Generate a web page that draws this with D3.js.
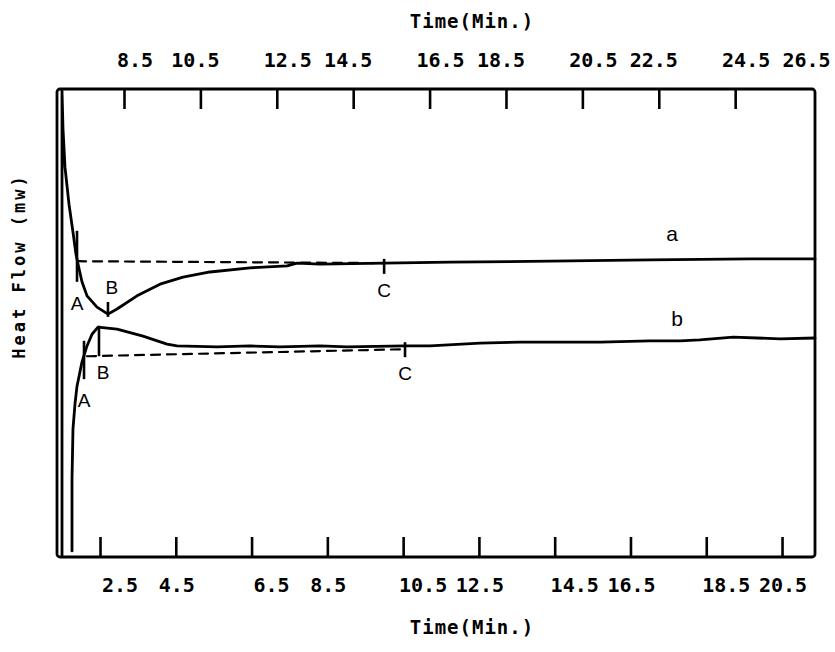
<!DOCTYPE html>
<html>
<head>
<meta charset="utf-8">
<script src="https://cdn.jsdelivr.net/npm/d3@7"></script>
<style>
    body { margin: 0; background: #fff; }
    svg { display: block; }
    .mono { font-family: "DejaVu Sans Mono", "Liberation Mono", monospace; font-weight: bold; }
    .mark { font-family: "Liberation Sans", "DejaVu Sans", sans-serif; }
</style>
</head>
<body>
<div id="container"></div>
<script>
const WIDTH = 835;
const HEIGHT = 652;
// plot box
const X1 = 57, X2 = 815, Y1 = 89, Y2 = 557;
const TICK = 20;

// top axis: time of run a (min)
const topDomain = [6.746, 26.59];
const topTicks = [8.5, 10.5, 12.5, 14.5, 16.5, 18.5, 20.5, 22.5, 24.5];
const topLabels = ["8.5", "10.5", "12.5", "14.5", "16.5", "18.5", "20.5", "22.5", "24.5", "26.5"];

// bottom axis: time of run b (min)
const bottomDomain = [1.365, 21.37];
const bottomTicks = [2.5, 4.5, 6.5, 8.5, 10.5, 12.5, 14.5, 16.5, 18.5, 20.5];
const bottomLabels = ["2.5", "4.5", "6.5", "8.5", "10.5", "12.5", "14.5", "16.5", "18.5", "20.5"];

// heat flow, arbitrary units (no scale printed)
const flowDomain = [0, 100];

// curve a (top time)
const aTime = [6.877, 6.877, 6.903, 6.955, 7.06, 7.165, 7.243, 7.296, 7.40, 7.532, 7.793, 8.081, 8.317,
    8.841, 9.443, 10.045, 10.752, 11.80, 12.77, 13.03, 13.63, 15.31, 17.04, 19.66, 22.27, 24.89, 26.59];
const aFlow = [0.4, 99.6, 91.5, 83.3, 75.4, 69.4, 64.7, 62.6, 58.8, 55.8, 53.4, 51.9, 53.0,
    55.8, 58.3, 59.8, 60.9, 61.8, 62.2, 62.8, 62.6, 62.8, 63.0, 63.2, 63.5, 63.7, 63.7];

// curve b (bottom time)
const bTime = [1.761, 1.761, 1.787, 1.840, 1.893, 2.025, 2.157, 2.289, 2.447, 2.949, 3.635, 4.268, 4.532,
    5.588, 6.459, 7.250, 8.306, 9.018, 10.55, 11.21, 12.53, 13.58, 15.70, 17.01, 17.81, 18.33, 19.21, 20.45, 21.37];
const bFlow = [1.3, 16.7, 27.4, 32.7, 36.5, 41.7, 45.1, 47.6, 49.1, 48.7, 47.2, 45.5, 45.1,
    44.9, 45.1, 44.9, 45.1, 44.9, 45.1, 45.1, 45.7, 45.9, 45.9, 46.2, 46.2, 46.4, 47.0, 46.6, 46.8];

// baselines A -> C
const aBaseTime = [7.27, 15.31];
const aBaseFlow = [63.2, 62.8];
const bBaseTime = [2.157, 10.55];
const bBaseFlow = [42.9, 44.4];

// markers A, B, C : time, flow span of the tick
const markNames = ["A", "B", "C"];
const aMarkTime = [7.27, 8.08, 15.31];
const aMarkFlow = [[69.7, 58.8], [54.5, 51.3], [63.7, 60.5]];
const bMarkTime = [2.078, 2.473, 10.55];
const bMarkFlow = [[46.2, 38.0], [49.4, 42.9], [45.9, 42.7]];

const svg = d3.select("#container").append("svg")
    .attr("width", WIDTH)
    .attr("height", HEIGHT);
svg.append("rect").attr("width", WIDTH).attr("height", HEIGHT).attr("fill", "#fff");

const xTop = d3.scaleLinear().domain(topDomain).range([X1, X2]);
const xBot = d3.scaleLinear().domain(bottomDomain).range([X1, X2]);
const y = d3.scaleLinear().domain(flowDomain).range([Y2, Y1]);

// ticks point into the box
const topAxis = d3.axisTop(xTop).tickValues(topTicks).tickSize(-TICK).tickSizeOuter(0).tickFormat("");
const botAxis = d3.axisBottom(xBot).tickValues(bottomTicks).tickSize(-TICK).tickSizeOuter(0).tickFormat("");
svg.append("g").attr("transform", `translate(0,${Y1})`).call(topAxis);
svg.append("g").attr("transform", `translate(0,${Y2})`).call(botAxis);
svg.selectAll(".domain").remove();
svg.selectAll(".tick line").attr("stroke", "#000").attr("stroke-width", 2.6);

// frame
svg.append("rect")
    .attr("x", X1).attr("y", Y1)
    .attr("width", X2 - X1).attr("height", Y2 - Y1)
    .attr("rx", 3)
    .attr("fill", "none").attr("stroke", "#000").attr("stroke-width", 2.8);

// tick labels, printed in pairs in the original
svg.append("g").selectAll("text").data(topLabels).enter().append("text")
    .attr("class", "mono")
    .attr("x", (d, i) => xTop(+d) + (i % 2 === 0 ? 11 : -5))
    .attr("y", 67)
    .attr("text-anchor", "middle")
    .style("font-size", "20px")
    .text((d) => d);
svg.append("g").selectAll("text").data(bottomLabels).enter().append("text")
    .attr("class", "mono")
    .attr("x", (d, i) => xBot(+d) + (i % 2 === 0 ? 20 : 1))
    .attr("y", 592)
    .attr("text-anchor", "middle")
    .style("font-size", "20px")
    .text((d) => d);

// axis titles
svg.append("text").attr("class", "mono")
    .attr("x", 472).attr("y", 28).attr("text-anchor", "middle")
    .style("font-size", "19px").style("letter-spacing", "1px")
    .text("Time(Min.)");
svg.append("text").attr("class", "mono")
    .attr("x", 472).attr("y", 634).attr("text-anchor", "middle")
    .style("font-size", "19px").style("letter-spacing", "1px")
    .text("Time(Min.)");
svg.append("text").attr("class", "mono")
    .attr("transform", "translate(25,266) rotate(-90)")
    .attr("text-anchor", "middle")
    .style("font-size", "17px").style("letter-spacing", "3px")
    .text("Heat Flow (mw)");

// curves
function drawCurve(xs, ys, sx, dash, width) {
    const pts = xs.map((t, i) => [sx(t), y(ys[i])]);
    svg.append("path")
        .attr("d", d3.line()(pts))
        .attr("fill", "none")
        .attr("stroke", "#000")
        .attr("stroke-width", width)
        .attr("stroke-linejoin", "round")
        .attr("stroke-linecap", "round")
        .attr("stroke-dasharray", dash);
}
drawCurve(aBaseTime, aBaseFlow, xTop, "9,7", 2.2);
drawCurve(bBaseTime, bBaseFlow, xBot, "9,7", 2.2);
drawCurve(aTime, aFlow, xTop, null, 2.8);
drawCurve(bTime, bFlow, xBot, null, 2.8);

// A B C marks
function drawMarks(times, spans, sx, labelSide) {
    times.forEach((t, i) => {
        const px = sx(t);
        svg.append("line")
            .attr("x1", px).attr("x2", px)
            .attr("y1", y(spans[i][0])).attr("y2", y(spans[i][1]))
            .attr("stroke", "#000").attr("stroke-width", 2.6);
        // label under the tick, or above it
        const above = labelSide[i] < 0;
        svg.append("text").attr("class", "mark")
            .attr("x", px + (i === 1 ? 4 : 0))
            .attr("y", above ? y(spans[i][0]) - 8 : y(spans[i][1]) + (i === 0 ? 28 : 23))
            .attr("text-anchor", "middle")
            .style("font-size", "19px")
            .text(markNames[i]);
    });
}
drawMarks(aMarkTime, aMarkFlow, xTop, [1, -1, 1]);
drawMarks(bMarkTime, bMarkFlow, xBot, [1, 1, 1]);

// curve names
svg.append("text").attr("class", "mark")
    .attr("x", xTop(22.85)).attr("y", y(aFlow[aFlow.length - 1]) - 18)
    .attr("text-anchor", "middle").style("font-size", "21px").text("a");
svg.append("text").attr("class", "mark")
    .attr("x", xBot(17.73)).attr("y", y(bFlow[bFlow.length - 1]) - 12)
    .attr("text-anchor", "middle").style("font-size", "21px").text("b");
</script>
</body>
</html>
